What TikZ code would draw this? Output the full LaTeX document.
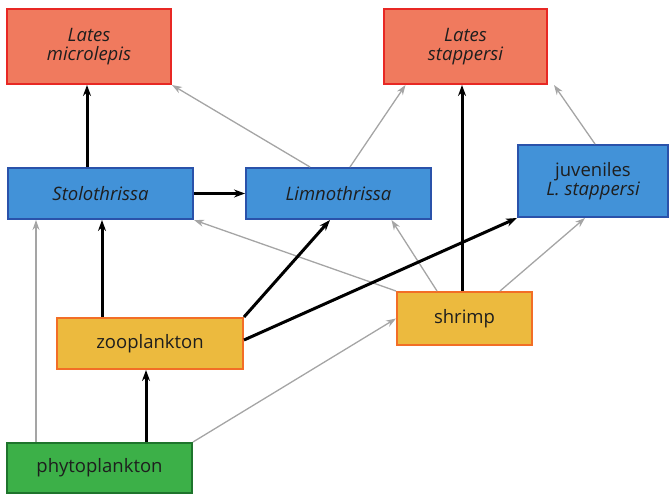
\documentclass[tikz,border=0pt]{standalone}
\usepackage{fontspec}
\setmainfont{Open Sans}
\usetikzlibrary{arrows.meta}

\newlength{\du}
\setlength{\du}{1pt}

\definecolor{fishred}{RGB}{240,122,94}
\definecolor{fishredline}{RGB}{232,40,36}
\definecolor{preyblue}{RGB}{66,146,216}
\definecolor{preyblueline}{RGB}{42,82,170}
\definecolor{zooorange}{RGB}{236,186,62}
\definecolor{zooorangeline}{RGB}{242,110,38}
\definecolor{phytogreen}{RGB}{60,176,72}
\definecolor{phytogreenline}{RGB}{30,116,44}
\definecolor{linkgray}{RGB}{165,165,165}
\definecolor{labelink}{RGB}{30,30,30}

\tikzset{
  taxon/.style={draw, line width=2\du, text=labelink, align=center, inner sep=0pt,
    font=\fontsize{18.5}{18.5}\selectfont},
  topfish/.style={taxon, fill=fishred, draw=fishredline},
  midfish/.style={taxon, fill=preyblue, draw=preyblueline},
  invert/.style={taxon, fill=zooorange, draw=zooorangeline},
  algae/.style={taxon, fill=phytogreen, draw=phytogreenline},
  strong/.style={line width=3\du, -{Stealth[length=11pt,width=8pt]}},
  weak/.style={line width=1.3\du, draw=linkgray, -{Stealth[length=10pt,width=7pt]}}
}

\begin{document}
\begin{tikzpicture}
\pgftransformxscale{1.000000}
\pgftransformyscale{-1.000000}
\useasboundingbox (0\du,0\du) rectangle (671\du,495\du);
% boxes
\node[topfish, minimum width=164\du, minimum height=75\du] (microlepis) at (89\du,46.5\du){\itshape Lates\\\itshape microlepis};
\node[topfish, minimum width=163\du, minimum height=75\du] (stappersi) at (465.5\du,46.5\du){\itshape Lates\\\itshape stappersi};
\node[midfish, minimum width=185\du, minimum height=51\du] (stolo) at (100.5\du,193.5\du){\itshape Stolothrissa};
\node[midfish, minimum width=185\du, minimum height=51\du] (limno) at (338.5\du,193.5\du){\itshape Limnothrissa};
\node[midfish, minimum width=150\du, minimum height=72\du] (juvenile) at (593\du,181\du){juveniles\\\itshape L. stappersi};
\node[invert, minimum width=135\du, minimum height=53\du] (shrimp) at (464.5\du,318.5\du){shrimp};
\node[invert, minimum width=186\du, minimum height=51\du] (zoo) at (150\du,343.5\du){zooplankton};
\node[algae, minimum width=185\du, minimum height=50\du] (phyto) at (99.5\du,468\du){phytoplankton};
% weak links
\draw[weak] ([xshift=-28.5\du]limno.north) -- (microlepis.south east);
\draw[weak] ([xshift=11.5\du]limno.north) -- ([xshift=-60\du]stappersi.south);
\draw[weak] ([xshift=2\du]juvenile.north) -- ([xshift=6\du]stappersi.south east);
\draw[weak] ([xshift=-27.5\du]shrimp.north) -- ([xshift=53\du]limno.south);
\draw[weak] (shrimp.north west) -- (stolo.south east);
\draw[weak] ([xshift=35.5\du]shrimp.north) -- ([xshift=-8\du]juvenile.south);
\draw[weak] ([xshift=-63.5\du]phyto.north) -- ([xshift=-63.5\du]phyto.north |- stolo.south);
\draw[weak] (phyto.north east) -- (shrimp.west);
% strong links
\draw[strong] ([xshift=-13.5\du]stolo.north) -- ([xshift=-13.5\du]stolo.north |- microlepis.south);
\draw[strong] (stolo.east) -- (limno.west);
\draw[strong] ([xshift=-48\du]zoo.north) -- ([xshift=-48\du]zoo.north |- stolo.south);
\draw[strong] (zoo.north east) -- ([xshift=-8.5\du]limno.south);
\draw[strong] ([yshift=-3.5\du]zoo.east) -- (juvenile.south west);
\draw[strong] ([xshift=46.5\du]phyto.north) -- ([xshift=46.5\du]phyto.north |- zoo.south);
\draw[strong] ([xshift=-2.5\du]shrimp.north) -- ([xshift=-2.5\du]shrimp.north |- stappersi.south);
\end{tikzpicture}
\end{document}
